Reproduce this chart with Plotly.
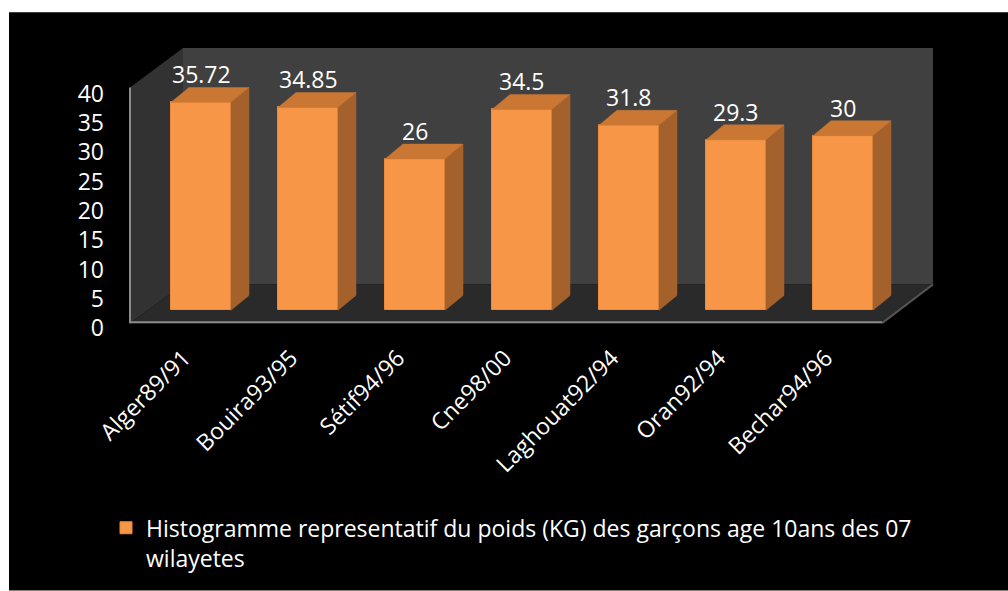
import plotly.graph_objects as go

# ---------------- data ----------------
categories = ["Alger89/91", "Bouira93/95", "Sétif94/96", "Cne98/00",
              "Laghouat92/94", "Oran92/94", "Bechar94/96"]
values = [35.72, 34.85, 26, 34.5, 31.8, 29.3, 30]
value_labels = ["35.72", "34.85", "26", "34.5", "31.8", "29.3", "30"]
y_ticks = [0, 5, 10, 15, 20, 25, 30, 35, 40]
series_name = ("Histogramme representatif du poids (KG) des garçons age 10ans des 07"
               "<br>wilayetes")

# ---------------- geometry (pixels) ----------------
W, H = 1008, 591
L, R, T, B = 130, 933, 40, 340
PW, PH = R - L, B - T


def px(x):
    return (x - L) / PW


def py(y):
    return (B - y) / PH


step_px = 107.0          # distance between categories
first_px = 201.0         # centre of first bar
bar_zero_px = 313.0      # pixel row of value 0 on bar plane
bar_scale = 5.88         # px per unit on bar plane
lab_zero_px = 331.0      # pixel row of tick 0 on front plane
lab_scale = 5.92         # px per unit on front plane
label_shift_px = 17.0    # category labels sit left of bar centres

x_range = [(L - first_px) / step_px, (R - first_px) / step_px]
x2_range = [(L - first_px + label_shift_px) / step_px, (R - first_px + label_shift_px) / step_px]
y_range = [-(B - bar_zero_px) / bar_scale, (bar_zero_px - T) / bar_scale]
y2_range = [-(B - lab_zero_px) / lab_scale, (lab_zero_px - T) / lab_scale]

bar_w = 60 / step_px
ddx = 18 / step_px
ddy = 15 / bar_scale

FRONT = "#F79646"
SIDE = "#A5612C"
TOP = "#C97733"
FONT = "Open Sans, Noto Sans, sans-serif"
FS = 23

xs = list(range(len(categories)))

fig = go.Figure()

fig.add_trace(go.Bar(
    x=xs, y=values, width=bar_w, name=series_name,
    marker=dict(color=FRONT, line=dict(color="#E98A3C", width=1)),
    hoverinfo="skip", showlegend=True,
))

for i, v in zip(xs, values):
    xr_ = i + bar_w / 2
    fig.add_trace(go.Scatter(
        x=[xr_, xr_ + ddx, xr_ + ddx, xr_, xr_],
        y=[0, ddy, v + ddy, v, 0],
        mode="lines", fill="toself", fillcolor=SIDE,
        line=dict(color=SIDE, width=0.5), hoverinfo="skip", showlegend=False,
    ))
    xl_ = i - bar_w / 2
    fig.add_trace(go.Scatter(
        x=[xl_, xr_, xr_ + ddx, xl_ + ddx, xl_],
        y=[v, v, v + ddy, v + ddy, v],
        mode="lines", fill="toself", fillcolor=TOP,
        line=dict(color=TOP, width=0.5), hoverinfo="skip", showlegend=False,
    ))

# invisible traces carrying the front-plane axes (value ticks, category labels)
fig.add_trace(go.Scatter(x=[xs[0]], y=[y_ticks[0]], yaxis="y2", mode="markers",
                         marker=dict(opacity=0), hoverinfo="skip", showlegend=False))
fig.add_trace(go.Scatter(x=[xs[0]], y=[y_ticks[0]], xaxis="x2", mode="markers",
                         marker=dict(opacity=0), hoverinfo="skip", showlegend=False))

annotations = []
for i, v, t in zip(xs, values, value_labels):
    annotations.append(dict(x=i, y=v, xref="x", yref="y", text=t, showarrow=False,
                            yshift=28, font=dict(family=FONT, size=FS, color="white")))

shapes = [
    # black chart area
    dict(type="rect", xref="paper", yref="paper", x0=px(9), x1=px(W + 5),
         y0=py(12), y1=py(H + 5), fillcolor="black", line=dict(width=0), layer="below"),
    # back wall
    dict(type="rect", xref="paper", yref="paper", x0=px(183), x1=px(933),
         y0=py(287), y1=py(48), fillcolor="#404040", line=dict(width=0), layer="below"),
    # left wall
    dict(type="path", xref="paper", yref="paper",
         path=f"M{px(130)},{py(88)} L{px(183)},{py(48)} L{px(183)},{py(287)} L{px(130)},{py(326)} Z",
         fillcolor="#323232", line=dict(width=0), layer="below"),
    # floor
    dict(type="path", xref="paper", yref="paper",
         path=f"M{px(130)},{py(326)} L{px(183)},{py(287)} L{px(933)},{py(287)} L{px(882)},{py(326)} Z",
         fillcolor="#2A2A2A", line=dict(width=0), layer="below"),
    # floor side edge
    dict(type="line", xref="paper", yref="paper", x0=px(882), y0=py(326), x1=px(933), y1=py(287),
         line=dict(color="#555555", width=2), layer="below"),
    # floor front edge
    dict(type="line", xref="paper", yref="paper", x0=px(130), y0=py(325), x1=px(882), y1=py(325),
         line=dict(color="#8A8A8A", width=2), layer="below"),
    # left wall front edge
    dict(type="line", xref="paper", yref="paper", x0=px(130), y0=py(88), x1=px(130), y1=py(326),
         line=dict(color="#8A8A8A", width=2), layer="below"),
]

fig.update_layout(
    width=W, height=H,
    margin=dict(l=L, r=W - R, t=T, b=H - B, pad=0),
    paper_bgcolor="white", plot_bgcolor="rgba(0,0,0,0)",
    font=dict(family=FONT, size=FS, color="white"),
    bargap=0,
    xaxis=dict(range=x_range, visible=False, fixedrange=True),
    xaxis2=dict(range=x2_range, overlaying="x", side="bottom", anchor="y",
                tickmode="array", tickvals=xs, ticktext=categories,
                tickangle=-45, showgrid=False, zeroline=False, showline=False,
                ticks="", ticklabelstandoff=2,
                tickfont=dict(family=FONT, size=FS, color="white"), fixedrange=True),
    yaxis=dict(range=y_range, visible=False, fixedrange=True),
    yaxis2=dict(range=y2_range, overlaying="y", side="left", tickmode="array",
                tickvals=y_ticks, showgrid=False, zeroline=False, showline=False,
                ticks="", ticklabelstandoff=25,
                tickfont=dict(family=FONT, size=FS, color="white"), fixedrange=True),
    showlegend=True,
    legend=dict(x=px(106), xanchor="left", y=py(511), yanchor="top",
                bgcolor="rgba(0,0,0,0)", valign="top", tracegroupgap=0,
                font=dict(family=FONT, size=FS, color="white")),
    annotations=annotations,
    shapes=shapes,
)

fig.write_html("out.html", config={"displayModeBar": False},
               post_script="document.body.style.margin='0';")
